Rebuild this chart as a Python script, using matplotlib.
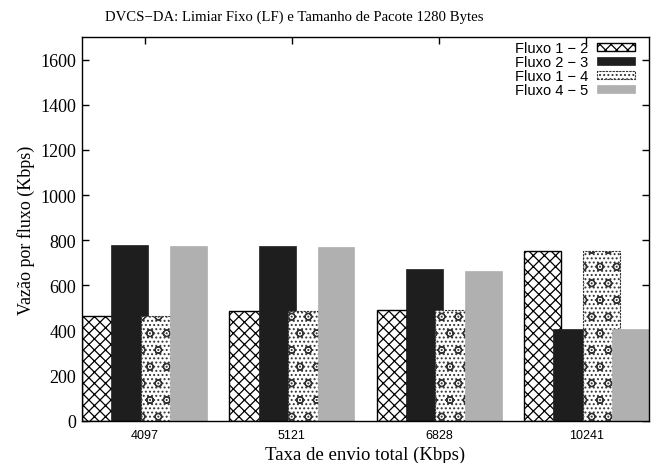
import numpy as np
import matplotlib
matplotlib.use("Agg")
import matplotlib.pyplot as plt

# dados
taxas = ['4097', '5121', '6828', '10241']
fluxos = ['Fluxo 1 − 2', 'Fluxo 2 − 3', 'Fluxo 1 − 4', 'Fluxo 4 − 5']
f12 = [465, 487, 490, 751]
f23 = [778, 773, 671, 406]
f14 = [465, 487, 490, 751]
f45 = [773, 772, 666, 406]

serif = 'Liberation Serif'
sans = 'Liberation Sans'
plt.rcParams['hatch.linewidth'] = 0.9

fig = plt.figure(figsize=(6.51, 4.64), dpi=100)
ax = fig.add_axes([82/651, 1-422/464, 567/651, 384/464])

x = np.arange(len(taxas))
w = 0.25
estilos = [
    dict(facecolor='white', edgecolor='black', hatch='xxx', linewidth=1.0),
    dict(facecolor='#1e1e1e', edgecolor='#1e1e1e', linewidth=0.5),
    dict(facecolor='white', edgecolor='#333333', hatch='o....', linewidth=0.8, linestyle=(0, (2, 1))),
    dict(facecolor='#b0b0b0', edgecolor='#b0b0b0', linewidth=0.5),
]
series = [f12, f23, f14, f45]
for i, (vals, lab, st) in enumerate(zip(series, fluxos, estilos)):
    ax.bar(x - 0.3 + 0.2*i, vals, width=w, label=lab, zorder=2+i, **st)

ax.set_xlim(-0.425, 3.425)
ax.set_ylim(0, 1700)
ax.set_yticks(range(0, 1601, 200))
ax.set_xticks(x)
ax.set_xticklabels(taxas, fontfamily=sans, fontsize=9)
for t in ax.get_yticklabels():
    t.set_fontfamily(serif)
    t.set_fontsize(13)
ax.tick_params(direction='in', length=5, width=1, top=True, right=True)
ax.tick_params(axis='x', pad=6)
ax.tick_params(axis='y', pad=4)
for s in ax.spines.values():
    s.set_linewidth(1.0)
    s.set_zorder(10)

ax.set_xlabel('Taxa de envio total (Kbps)', fontfamily=serif, fontsize=13.5, labelpad=3)
ax.set_ylabel('Vazão por fluxo (Kbps)', fontfamily=serif, fontsize=13, labelpad=4)
fig.text(294/651, 1-17/464, 'DVCS−DA: Limiar Fixo (LF) e Tamanho de Pacote 1280 Bytes',
         fontfamily=serif, fontsize=10.6, ha='center', va='center')

leg = ax.legend(loc='upper right', bbox_to_anchor=(0.975, (422-42)/384), frameon=False,
                markerfirst=False, borderpad=0, borderaxespad=0, labelspacing=0,
                handlelength=2.6, handleheight=0.5, handletextpad=0.6,
                prop={'family': sans, 'size': 10.5})

fig.savefig('out.png', dpi=100)
